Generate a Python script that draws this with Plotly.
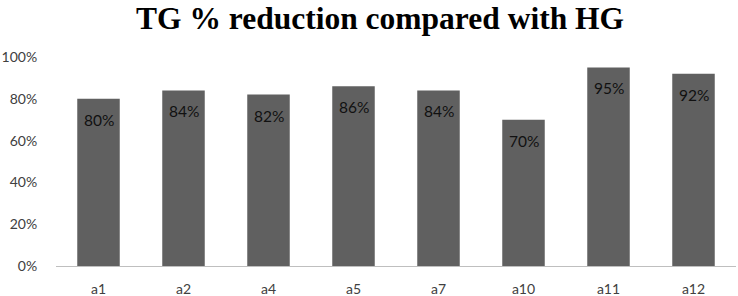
import plotly.graph_objects as go

categories = ["a1", "a2", "a4", "a5", "a7", "a10", "a11", "a12"]
values = [0.80, 0.84, 0.82, 0.86, 0.84, 0.70, 0.95, 0.92]
labels = ["80%", "84%", "82%", "86%", "84%", "70%", "95%", "92%"]
y_ticks = [0, 0.2, 0.4, 0.6, 0.8, 1.0]
y_tick_labels = ["0%", "20%", "40%", "60%", "80%", "100%"]

fig = go.Figure(go.Bar(
    x=categories, y=values, marker=dict(color="#606060", line=dict(width=0)),
    hoverinfo="skip",
))

for c, v, t in zip(categories, values, labels):
    fig.add_annotation(x=c, y=v, text=t, showarrow=False, yshift=-21,
                       font=dict(family="Lato", size=15.5, color="#111111"))

fig.update_layout(
    width=738, height=296,
    margin=dict(l=56, r=2, t=57, b=30),
    paper_bgcolor="white", plot_bgcolor="white",
    bargap=0.5,
    showlegend=False,
    title=dict(text="<b>TG % reduction compared with HG</b>", x=0.515, xanchor="center",
               y=0.975, yanchor="top",
               font=dict(family="Liberation Serif", size=31.5, color="#000000")),
    xaxis=dict(showline=True, linecolor="#bfbfbf", linewidth=1, ticks="outside",
               ticklen=10, tickcolor="rgba(0,0,0,0)", automargin=False,
               tickfont=dict(family="Lato", size=14, color="#404040"),
               showgrid=False, fixedrange=True),
    yaxis=dict(range=[0, 1.0], tickvals=y_ticks, ticktext=y_tick_labels,
               showgrid=False, zeroline=False, showline=False, automargin=False,
               ticks="outside", ticklen=15, tickcolor="rgba(0,0,0,0)",
               tickfont=dict(family="Lato", size=14, color="#404040"),
               fixedrange=True),
)

fig.write_html("out.html", config={"displayModeBar": False},
               post_script="document.body.style.margin='0';document.body.style.overflow='hidden';")
